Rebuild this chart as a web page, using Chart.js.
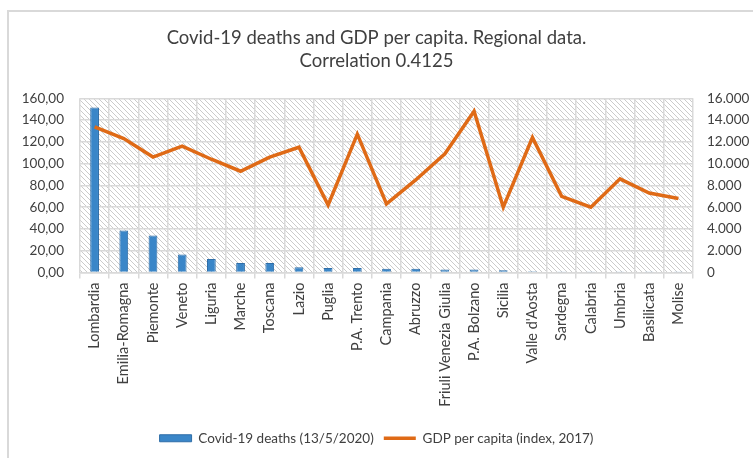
<!DOCTYPE html>
<html>
<head>
<meta charset="utf-8">
<script src="https://cdn.jsdelivr.net/npm/chart.js@4"></script>
<style>
  body { margin: 0; background: #fff; }
  #wrap { position: relative; width: 753px; height: 458px; overflow: hidden; }
  #frame { position: absolute; left: 7px; top: 10px; width: 800px; height: 500px; border: 2px solid #d9d9d9; }
  #chart { position: absolute; left: 0; top: 0; }
</style>
</head>
<body>
<div id="wrap">
  <div id="frame"></div>
  <canvas id="chart" width="753" height="458"></canvas>
</div>
<script>
const regions = ["Lombardia", "Emilia-Romagna", "Piemonte", "Veneto", "Liguria", "Marche", "Toscana", "Lazio", "Puglia", "P.A. Trento", "Campania", "Abruzzo", "Friuli Venezia Giulia", "P.A. Bolzano", "Sicilia", "Valle d'Aosta", "Sardegna", "Calabria", "Umbria", "Basilicata", "Molise"];
const deaths = [151.5, 38.5, 34, 16.5, 12.5, 8.8, 8.8, 4.9, 4.1, 4.1, 3.4, 3.4, 2.7, 2.7, 2.0, 1.2, 0.3, 0.3, 0.3, 0.2, 0.3];
const gdp = [13370, 12300, 10600, 11600, 10400, 9300, 10600, 11500, 6200, 12700, 6300, 8500, 10900, 14800, 6000, 12400, 7000, 6000, 8600, 7300, 6800];
const deathTicks = [0, 160, 20];
const gdpTicks = [0, 16000, 2000];

const FONT = "Lato, 'Open Sans', sans-serif";
const TEXT = "#404040";
const GRID = "#d9d9d9";

// diagonal hatch for the plot background
function hatch() {
  const c = document.createElement("canvas");
  c.width = 5; c.height = 5;
  const g = c.getContext("2d");
  g.fillStyle = "#fff";
  g.fillRect(0, 0, 5, 5);
  g.strokeStyle = "#cbcbcb";
  g.lineWidth = 1;
  g.beginPath();
  g.moveTo(-1, -1); g.lineTo(6, 6);
  g.moveTo(-1, 4); g.lineTo(1, 6);
  g.moveTo(4, -1); g.lineTo(6, 1);
  g.stroke();
  return g.createPattern(c, "repeat");
}

const areaBg = {
  id: "areaBg",
  beforeDraw(chart) {
    const { ctx, chartArea: a } = chart;
    ctx.save();
    ctx.fillStyle = hatch();
    ctx.fillRect(a.left, a.top, a.right - a.left, a.bottom - a.top);
    ctx.restore();
  }
};

new Chart(document.getElementById("chart"), {
  type: "bar",
  data: {
    labels: regions,
    datasets: [{
      label: "Covid-19 deaths (13/5/2020)",
      data: deaths,
      backgroundColor: "#3a86c8",
      borderColor: "#2f6ea8",
      borderWidth: 1,
      barPercentage: 0.3,
      categoryPercentage: 1,
      pointStyle: "rect",
      yAxisID: "y",
      order: 1
    }, {
      type: "line",
      label: "GDP per capita (index, 2017)",
      data: gdp,
      borderColor: "#df6a16",
      backgroundColor: "#df6a16",
      borderWidth: 3.5,
      pointRadius: 0,
      tension: 0,
      pointStyle: "line",
      yAxisID: "y1",
      order: 0
    }]
  },
  options: {
    responsive: false,
    animation: false,
    layout: { padding: { top: 26, left: 0, right: 0, bottom: 3 } },
    plugins: {
      title: {
        display: true,
        text: ["Covid-19 deaths and GDP per capita. Regional data.", "Correlation 0.4125"],
        color: TEXT,
        font: { family: FONT, size: 18.5, weight: "normal", lineHeight: 1.25 },
        padding: { top: 0, bottom: 26 }
      },
      legend: {
        position: "bottom",
        labels: {
          usePointStyle: true,
          pointStyleWidth: 32,
          boxHeight: 7,
          padding: 10,
          color: TEXT,
          font: { family: FONT, size: 13.5 },
          sort: (a, b) => a.datasetIndex - b.datasetIndex
        }
      },
      tooltip: { enabled: false }
    },
    scales: {
      x: {
        grid: { color: GRID, lineWidth: 1.5, offset: true, drawTicks: true, tickLength: 6 },
        border: { color: GRID, width: 1.5 },
        ticks: { color: TEXT, font: { family: FONT, size: 14.5 }, minRotation: 90, maxRotation: 90, autoSkip: false, padding: 4 },
        afterFit(s) { s.height = 149; }
      },
      y: {
        position: "left",
        min: deathTicks[0], max: deathTicks[1],
        grid: { color: GRID, lineWidth: 1.5, drawTicks: false },
        border: { display: false },
        ticks: {
          stepSize: deathTicks[2], color: TEXT, padding: 16,
          font: { family: FONT, size: 13.5 },
          callback: v => v.toFixed(2).replace(".", ",")
        },
        afterFit(s) { s.width = 80; }
      },
      y1: {
        position: "right",
        min: gdpTicks[0], max: gdpTicks[1],
        grid: { drawOnChartArea: false, drawTicks: false },
        border: { display: false },
        ticks: {
          stepSize: gdpTicks[2], color: TEXT, padding: 14,
          font: { family: FONT, size: 13.5 },
          callback: v => v === 0 ? "0" : (v / 1000).toFixed(3)
        },
        afterFit(s) { s.width = 60; }
      }
    }
  },
  plugins: [areaBg]
});
</script>
</body>
</html>
